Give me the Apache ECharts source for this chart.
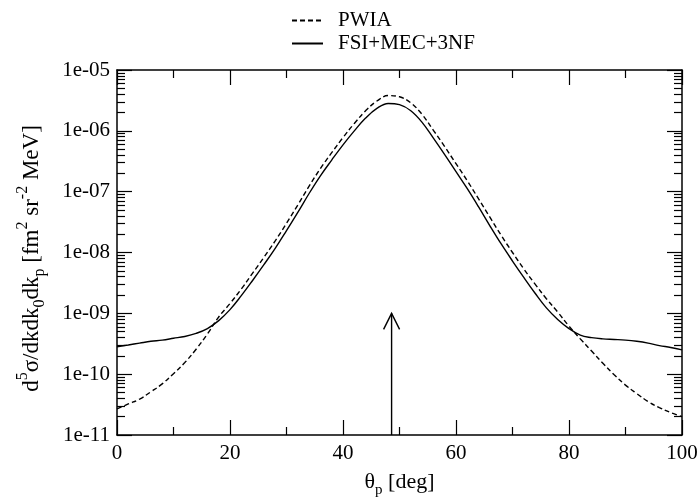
<!DOCTYPE html>
<html>
<head>
<meta charset="utf-8">
<script src="https://cdn.jsdelivr.net/npm/echarts@6/dist/echarts.min.js"></script>
<style>html,body{margin:0;padding:0;background:#fff}#c{width:699px;height:500px}</style>
</head>
<body>
<div id="c"></div>
<script>
// angle theta_p [deg]
var thetaP = [0,2,4,6,8,10,12,14,16,18,20,22,24,26,28,30,32,34,36,38,40,42,44,46,48,50,52,54,56,58,60,62,64,66,68,70,72,74,76,78,80,82,84,86,88,90,92,94,96,98,100];
// PWIA (dashed)
var pwia = [2.69e-11,3.24e-11,3.89e-11,5.13e-11,6.92e-11,1.02e-10,1.55e-10,2.57e-10,4.57e-10,8.71e-10,
  1.45e-9,2.51e-9,4.57e-9,8.32e-9,1.55e-8,3.02e-8,6.03e-8,1.23e-7,2.40e-7,4.37e-7,
  7.76e-7,1.32e-6,2.14e-6,3.09e-6,3.80e-6,3.63e-6,2.88e-6,1.86e-6,1.02e-6,5.50e-7,
  2.88e-7,1.51e-7,7.59e-8,3.80e-8,1.91e-8,1.00e-8,5.37e-9,3.02e-9,1.74e-9,1.05e-9,
  6.17e-10,3.80e-10,2.40e-10,1.51e-10,9.77e-11,6.61e-11,4.79e-11,3.55e-11,2.82e-11,2.34e-11,2.00e-11];
// FSI+MEC+3NF (solid)
var fsi = [2.82e-10,3.02e-10,3.24e-10,3.47e-10,3.63e-10,3.89e-10,4.17e-10,4.68e-10,5.62e-10,7.59e-10,
  1.15e-9,1.95e-9,3.47e-9,6.31e-9,1.17e-8,2.29e-8,4.57e-8,9.33e-8,1.82e-7,3.31e-7,
  5.89e-7,1.00e-6,1.62e-6,2.34e-6,2.82e-6,2.69e-6,2.14e-6,1.38e-6,7.59e-7,4.07e-7,
  2.14e-7,1.12e-7,5.62e-8,2.75e-8,1.38e-8,7.24e-9,3.89e-9,2.14e-9,1.23e-9,7.94e-10,
  5.62e-10,4.37e-10,3.98e-10,3.80e-10,3.72e-10,3.63e-10,3.47e-10,3.24e-10,2.95e-10,2.75e-10,2.51e-10];
var seriesNames = ['PWIA','FSI+MEC+3NF'];
// arrow marker
var arrowX = 48.6, arrowFrom = 1e-11, arrowTo = 1e-9;
// axis ticks
var xTicks = [0,20,40,60,80,100];
var yTickValues = [1e-11,1e-10,1e-9,1e-8,1e-7,1e-6,1e-5];
var yTickLabels = ['1e-11','1e-10','1e-09','1e-08','1e-07','1e-06','1e-05'];
var yMinorTicks = [];
for (var e = -11; e < -5; e++) { for (var m = 2; m <= 9; m++) { yMinorTicks.push(m * Math.pow(10, e)); } }

var FONT = "'Liberation Serif','Times New Roman',serif";
function pairs(xs, ys){ return xs.map(function(x,i){ return [x, ys[i]]; }); }
function yLabel(v){
  var best = 0, bd = 1e9;
  for (var i=0;i<yTickValues.length;i++){ var d=Math.abs(Math.log10(v)-Math.log10(yTickValues[i])); if(d<bd){bd=d;best=i;} }
  return bd < 0.01 ? yTickLabels[best] : '';
}
var axLine = {show:true, lineStyle:{color:'#000', width:1.5}};
function yAxisBase(extra){
  var o = {type:'log', logBase:10, min:yTickValues[0], max:yTickValues[yTickValues.length-1],
    axisLine: axLine, splitLine:{show:false},
    axisTick:{show:true, inside:true, length:15, lineStyle:{color:'#000', width:1.2}},
    axisLabel:{show:false}};
  for (var k in extra) o[k] = extra[k];
  return o;
}
function xAxisBase(extra){
  var o = {type:'value', min:xTicks[0], max:xTicks[xTicks.length-1], interval:20,
    axisLine: axLine, splitLine:{show:false},
    axisTick:{show:true, inside:true, length:15, lineStyle:{color:'#000', width:1.2}},
    minorTick:{show:true, splitNumber:2, length:8, lineStyle:{color:'#000', width:1.2}},
    axisLabel:{show:false}};
  for (var k in extra) o[k] = extra[k];
  return o;
}
var minorTickY = {show:true, inside:true, length:8, customValues: yMinorTicks, lineStyle:{color:'#000', width:1.2}};
function richFor(size, subSize){
  return {
    t:{fontFamily:FONT, fontSize:size, lineHeight:size+10, verticalAlign:'middle', color:'#000'},
    sup:{fontFamily:FONT, fontSize:subSize, lineHeight:subSize, verticalAlign:'top', color:'#000'},
    sub:{fontFamily:FONT, fontSize:subSize, lineHeight:subSize, verticalAlign:'bottom', color:'#000'}
  };
}

var chart = echarts.init(document.getElementById('c'), null, {renderer:'canvas'});
chart.setOption({
  animation:false,
  backgroundColor:'#fff',
  textStyle:{fontFamily:FONT},
  grid:{left:117, right:17, top:70, bottom:65, containLabel:false, outerBoundsMode:'none'},
  legend:{
    orient:'vertical', left:286, top:5, itemWidth:31, itemHeight:14, itemGap:2,
    itemStyle:{opacity:0},
    textStyle:{fontFamily:FONT, fontSize:21, color:'#000', padding:[0,0,0,10]},
    data: seriesNames
  },
  xAxis:[
    xAxisBase({position:'bottom',
      axisLabel:{show:true, fontFamily:FONT, fontSize:21, color:'#000', margin:8},
      name:'{t|θ}{sub|p}{t| [deg]}', nameLocation:'middle', nameGap:31,
      nameTextStyle:{fontFamily:FONT, fontSize:21, color:'#000', rich:richFor(22,15)}}),
    xAxisBase({position:'top'})
  ],
  yAxis:[
    yAxisBase({position:'left',
      axisLabel:{show:true, fontFamily:FONT, fontSize:21, color:'#000', margin:7, formatter:yLabel},
      name:'{t|d}{sup|5}{t|σ/dkdk}{sub|0}{t|dk}{sub|p}{t| [fm}{sup|2}{t| sr}{sup|-2}{t| MeV]}',
      nameLocation:'middle', nameGap:69, nameRotate:90,
      nameTextStyle:{fontFamily:FONT, fontSize:23, color:'#000', padding:[0,12,0,0], rich:richFor(23,16)}}),
    yAxisBase({position:'left', axisLine:{show:false}, axisTick:minorTickY}),
    yAxisBase({position:'right'}),
    yAxisBase({position:'right', axisLine:{show:false}, axisTick:minorTickY})
  ],
  series:[
    {name:seriesNames[0], type:'line', data:pairs(thetaP, pwia), showSymbol:false, symbol:'none', smooth:0.4,
     lineStyle:{color:'#000', width:1.4, type:[5,3]}, itemStyle:{color:'#000'}, z:3},
    {name:seriesNames[1], type:'line', data:pairs(thetaP, fsi), showSymbol:false, symbol:'none', smooth:0.4,
     lineStyle:{color:'#000', width:1.4, type:'solid'}, itemStyle:{color:'#000'}, z:3},
    {type:'custom', data:[[arrowX, arrowFrom, arrowTo]], silent:true, z:4,
     renderItem:function(params, api){
       var p0 = api.coord([api.value(0), api.value(1)]);
       var p1 = api.coord([api.value(0), api.value(2)]);
       var st = {stroke:'#000', lineWidth:1.4, fill:null};
       return {type:'group', children:[
         {type:'line', shape:{x1:p0[0], y1:p0[1], x2:p1[0], y2:p1[1]}, style:st},
         {type:'polyline', shape:{points:[[p1[0]-8, p1[1]+16],[p1[0], p1[1]],[p1[0]+8, p1[1]+16]]}, style:st}
       ]};
     }}
  ]
});
</script>
</body>
</html>
